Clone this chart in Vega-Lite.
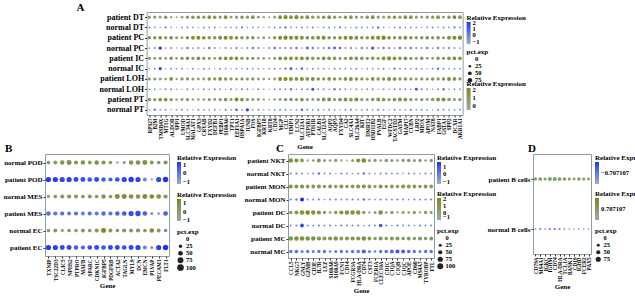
{
"$schema":"https://vega.github.io/schema/vega-lite/v6.json",
"padding":{"left":2,"top":1,"right":0,"bottom":0},
"config":{
"font":"Liberation Serif",
"view":{"stroke":"#8aa0a0","strokeWidth":1},
"axis":{"grid":false,"domain":false,"ticks":true,"tickSize":2,"tickColor":"#333","labelFontWeight":"bold","labelColor":"#000","labelPadding":1,"titleFontWeight":"bold","titleFontSize":7,"titleColor":"#000"},
"axisX":{"labelAngle":-90,"labelFontSize":5.2,"titlePadding":1},
"axisY":{"labelFontSize":7.5},
"legend":{"titleFontSize":7,"titleFontWeight":"bold","titleColor":"#000","labelFontSize":6.5,"labelFontWeight":"bold","labelColor":"#000","labelOverlap":false,"gradientLength":22,"gradientThickness":4,"gradientStrokeWidth":0,"titlePadding":1,"labelOffset":2,"padding":0,"rowPadding":-2,"symbolStrokeWidth":0,"symbolFillColor":"#222","titleLimit":200},
"title":{"font":"Liberation Serif","fontWeight":"bold","fontSize":11,"anchor":"start","frame":"group","baseline":"alphabetic","offset":0}
},
"datasets":{
"A":[
{"g":"RPS27","id":"patient DT","e":0.6,"p":40},{"g":"B2M","id":"patient DT","e":0.8,"p":35},{"g":"TMSB4X","id":"patient DT","e":0.4,"p":30},{"g":"MT1G","id":"patient DT","e":1.0,"p":45},{"g":"ALDOB","id":"patient DT","e":0.3,"p":20},{"g":"SPP1","id":"patient DT","e":0.2,"p":15},{"g":"UMOD","id":"patient DT","e":0.5,"p":30},{"g":"SLC34A1","id":"patient DT","e":0.9,"p":40},{"g":"MALAT1","id":"patient DT","e":1.2,"p":45},{"g":"GPX3","id":"patient DT","e":1.1,"p":45},
{"g":"CRYAB","id":"patient DT","e":1.0,"p":40},{"g":"FXYD2","id":"patient DT","e":1.3,"p":50},{"g":"DEFB1","id":"patient DT","e":1.2,"p":45},{"g":"PEBP1","id":"patient DT","e":0.8,"p":35},{"g":"S100A6","id":"patient DT","e":1.5,"p":55},{"g":"TPT1","id":"patient DT","e":0.7,"p":30},{"g":"EEF1A1","id":"patient DT","e":0.6,"p":35},{"g":"HSPA1A","id":"patient DT","e":1.0,"p":45},{"g":"JUNB","id":"patient DT","e":0.9,"p":40},{"g":"FOS","id":"patient DT","e":1.4,"p":50},
{"g":"IGFBP7","id":"patient DT","e":0.5,"p":30},{"g":"KRT18","id":"patient DT","e":0.3,"p":20},{"g":"KRT8","id":"patient DT","e":0.2,"p":15},{"g":"CD24","id":"patient DT","e":0.6,"p":30},{"g":"MGP","id":"patient DT","e":1.6,"p":55},{"g":"CLU","id":"patient DT","e":1.8,"p":60},{"g":"TIMP1","id":"patient DT","e":1.5,"p":55},{"g":"LCN2","id":"patient DT","e":1.7,"p":60},{"g":"SLC12A1","id":"patient DT","e":1.2,"p":45},{"g":"ATP1B1","id":"patient DT","e":1.4,"p":50},
{"g":"PTH1R","id":"patient DT","e":1.0,"p":40},{"g":"CALB1","id":"patient DT","e":0.8,"p":35},{"g":"SLC12A3","id":"patient DT","e":1.1,"p":45},{"g":"AQP2","id":"patient DT","e":1.5,"p":55},{"g":"AQP3","id":"patient DT","e":0.9,"p":40},{"g":"FXYD4","id":"patient DT","e":0.6,"p":30},{"g":"CA2","id":"patient DT","e":1.2,"p":45},{"g":"SLC4A1","id":"patient DT","e":1.3,"p":50},{"g":"SLC26A4","id":"patient DT","e":0.7,"p":35},{"g":"KIT","id":"patient DT","e":0.5,"p":30},
{"g":"DMRT2","id":"patient DT","e":1.1,"p":45},{"g":"HSD11B2","id":"patient DT","e":1.6,"p":55},{"g":"PVALB","id":"patient DT","e":0.8,"p":35},{"g":"EGF","id":"patient DT","e":0.6,"p":30},{"g":"WFDC2","id":"patient DT","e":1.0,"p":40},{"g":"TACSTD2","id":"patient DT","e":1.2,"p":45},{"g":"GATM","id":"patient DT","e":0.9,"p":40},{"g":"MAP17","id":"patient DT","e":1.5,"p":55},{"g":"CUBN","id":"patient DT","e":1.3,"p":50},{"g":"LRP2","id":"patient DT","e":0.7,"p":35},
{"g":"MIOX","id":"patient DT","e":0.5,"p":30},{"g":"APOM","id":"patient DT","e":0.8,"p":35},{"g":"NAT8","id":"patient DT","e":1.0,"p":40},{"g":"FABP1","id":"patient DT","e":1.4,"p":50},{"g":"GSTA1","id":"patient DT","e":0.6,"p":30},{"g":"SPP2","id":"patient DT","e":1.2,"p":45},{"g":"DCXR","id":"patient DT","e":1.7,"p":55},{"g":"AKR1A1","id":"patient DT","e":1.3,"p":50},
{"g":"RPS27","id":"normal DT","e":-0.5,"p":15},{"g":"B2M","id":"normal DT","e":-0.3,"p":12},{"g":"TMSB4X","id":"normal DT","e":-0.8,"p":8},{"g":"MT1G","id":"normal DT","e":-0.2,"p":18},{"g":"ALDOB","id":"normal DT","e":-0.6,"p":10},{"g":"SPP1","id":"normal DT","e":-1.4,"p":6},{"g":"UMOD","id":"normal DT","e":-0.4,"p":12},{"g":"SLC34A1","id":"normal DT","e":-0.2,"p":15},{"g":"MALAT1","id":"normal DT","e":-0.5,"p":10},{"g":"GPX3","id":"normal DT","e":-0.7,"p":8},
{"g":"CRYAB","id":"normal DT","e":-0.3,"p":14},{"g":"FXYD2","id":"normal DT","e":-0.6,"p":10},{"g":"DEFB1","id":"normal DT","e":-0.2,"p":16},{"g":"PEBP1","id":"normal DT","e":-0.8,"p":6},{"g":"S100A6","id":"normal DT","e":-0.4,"p":12},{"g":"TPT1","id":"normal DT","e":-0.5,"p":10},{"g":"EEF1A1","id":"normal DT","e":-0.3,"p":14},{"g":"HSPA1A","id":"normal DT","e":-0.1,"p":18},{"g":"JUNB","id":"normal DT","e":-0.7,"p":8},{"g":"FOS","id":"normal DT","e":-0.4,"p":12},
{"g":"IGFBP7","id":"normal DT","e":-0.6,"p":10},{"g":"KRT18","id":"normal DT","e":-0.9,"p":5},{"g":"KRT8","id":"normal DT","e":-0.5,"p":10},{"g":"CD24","id":"normal DT","e":-0.3,"p":14},{"g":"MGP","id":"normal DT","e":-0.2,"p":16},{"g":"CLU","id":"normal DT","e":0.1,"p":20},{"g":"TIMP1","id":"normal DT","e":-0.4,"p":12},{"g":"LCN2","id":"normal DT","e":-0.6,"p":10},{"g":"SLC12A1","id":"normal DT","e":-0.3,"p":14},{"g":"ATP1B1","id":"normal DT","e":-0.5,"p":10},
{"g":"PTH1R","id":"normal DT","e":-0.2,"p":16},{"g":"CALB1","id":"normal DT","e":-0.8,"p":6},{"g":"SLC12A3","id":"normal DT","e":-0.4,"p":12},{"g":"AQP2","id":"normal DT","e":-0.3,"p":14},{"g":"AQP3","id":"normal DT","e":-0.6,"p":10},{"g":"FXYD4","id":"normal DT","e":-0.1,"p":18},{"g":"CA2","id":"normal DT","e":-0.5,"p":10},{"g":"SLC4A1","id":"normal DT","e":-0.7,"p":8},{"g":"SLC26A4","id":"normal DT","e":-0.2,"p":16},{"g":"KIT","id":"normal DT","e":-0.4,"p":12},
{"g":"DMRT2","id":"normal DT","e":-0.6,"p":10},{"g":"HSD11B2","id":"normal DT","e":-0.3,"p":14},{"g":"PVALB","id":"normal DT","e":0.2,"p":22},{"g":"EGF","id":"normal DT","e":-0.5,"p":10},{"g":"WFDC2","id":"normal DT","e":-0.8,"p":6},{"g":"TACSTD2","id":"normal DT","e":-0.4,"p":12},{"g":"GATM","id":"normal DT","e":-0.2,"p":16},{"g":"MAP17","id":"normal DT","e":-0.6,"p":10},{"g":"CUBN","id":"normal DT","e":-0.3,"p":14},{"g":"LRP2","id":"normal DT","e":-0.5,"p":10},
{"g":"MIOX","id":"normal DT","e":-0.7,"p":8},{"g":"APOM","id":"normal DT","e":-0.4,"p":12},{"g":"NAT8","id":"normal DT","e":-0.2,"p":16},{"g":"FABP1","id":"normal DT","e":-0.6,"p":10},{"g":"GSTA1","id":"normal DT","e":-0.3,"p":14},{"g":"SPP2","id":"normal DT","e":-0.5,"p":10},{"g":"DCXR","id":"normal DT","e":-0.1,"p":18},{"g":"AKR1A1","id":"normal DT","e":-0.4,"p":12},
{"g":"RPS27","id":"patient PC","e":1.2,"p":45},{"g":"B2M","id":"patient PC","e":1.0,"p":45},{"g":"TMSB4X","id":"patient PC","e":1.5,"p":50},{"g":"MT1G","id":"patient PC","e":0.8,"p":40},{"g":"ALDOB","id":"patient PC","e":1.3,"p":50},{"g":"SPP1","id":"patient PC","e":0.6,"p":35},{"g":"UMOD","id":"patient PC","e":0.4,"p":30},{"g":"SLC34A1","id":"patient PC","e":1.1,"p":45},{"g":"MALAT1","id":"patient PC","e":1.6,"p":55},{"g":"GPX3","id":"patient PC","e":1.8,"p":60},
{"g":"CRYAB","id":"patient PC","e":1.4,"p":50},{"g":"FXYD2","id":"patient PC","e":1.2,"p":45},{"g":"DEFB1","id":"patient PC","e":1.0,"p":45},{"g":"PEBP1","id":"patient PC","e":1.7,"p":55},{"g":"S100A6","id":"patient PC","e":1.9,"p":60},{"g":"TPT1","id":"patient PC","e":1.5,"p":55},{"g":"EEF1A1","id":"patient PC","e":1.3,"p":50},{"g":"HSPA1A","id":"patient PC","e":1.1,"p":45},{"g":"JUNB","id":"patient PC","e":0.9,"p":40},{"g":"FOS","id":"patient PC","e":1.2,"p":45},
{"g":"IGFBP7","id":"patient PC","e":0.3,"p":25},{"g":"KRT18","id":"patient PC","e":0.5,"p":30},{"g":"KRT8","id":"patient PC","e":0.2,"p":20},{"g":"CD24","id":"patient PC","e":1.0,"p":40},{"g":"MGP","id":"patient PC","e":1.8,"p":60},{"g":"CLU","id":"patient PC","e":2.0,"p":65},{"g":"TIMP1","id":"patient PC","e":1.7,"p":60},{"g":"LCN2","id":"patient PC","e":1.9,"p":60},{"g":"SLC12A1","id":"patient PC","e":1.6,"p":55},{"g":"ATP1B1","id":"patient PC","e":1.4,"p":50},
{"g":"PTH1R","id":"patient PC","e":1.3,"p":50},{"g":"CALB1","id":"patient PC","e":1.5,"p":55},{"g":"SLC12A3","id":"patient PC","e":1.8,"p":60},{"g":"AQP2","id":"patient PC","e":1.2,"p":45},{"g":"AQP3","id":"patient PC","e":1.0,"p":40},{"g":"FXYD4","id":"patient PC","e":1.4,"p":50},{"g":"CA2","id":"patient PC","e":1.7,"p":55},{"g":"SLC4A1","id":"patient PC","e":1.9,"p":60},{"g":"SLC26A4","id":"patient PC","e":1.6,"p":55},{"g":"KIT","id":"patient PC","e":1.1,"p":45},
{"g":"DMRT2","id":"patient PC","e":1.2,"p":45},{"g":"HSD11B2","id":"patient PC","e":1.5,"p":55},{"g":"PVALB","id":"patient PC","e":1.8,"p":60},{"g":"EGF","id":"patient PC","e":2.2,"p":65},{"g":"WFDC2","id":"patient PC","e":1.4,"p":50},{"g":"TACSTD2","id":"patient PC","e":1.0,"p":40},{"g":"GATM","id":"patient PC","e":1.3,"p":50},{"g":"MAP17","id":"patient PC","e":1.6,"p":55},{"g":"CUBN","id":"patient PC","e":1.2,"p":45},{"g":"LRP2","id":"patient PC","e":0.9,"p":40},
{"g":"MIOX","id":"patient PC","e":1.1,"p":45},{"g":"APOM","id":"patient PC","e":1.4,"p":50},{"g":"NAT8","id":"patient PC","e":1.0,"p":40},{"g":"FABP1","id":"patient PC","e":1.3,"p":50},{"g":"GSTA1","id":"patient PC","e":0.7,"p":35},{"g":"SPP2","id":"patient PC","e":1.5,"p":55},{"g":"DCXR","id":"patient PC","e":1.8,"p":60},{"g":"AKR1A1","id":"patient PC","e":1.9,"p":65},
{"g":"RPS27","id":"normal PC","e":-0.4,"p":12},{"g":"B2M","id":"normal PC","e":-0.2,"p":14},{"g":"TMSB4X","id":"normal PC","e":2.2,"p":40},{"g":"MT1G","id":"normal PC","e":-0.5,"p":10},{"g":"ALDOB","id":"normal PC","e":-0.3,"p":14},{"g":"SPP1","id":"normal PC","e":-0.6,"p":8},{"g":"UMOD","id":"normal PC","e":-0.2,"p":12},{"g":"SLC34A1","id":"normal PC","e":0.2,"p":20},{"g":"MALAT1","id":"normal PC","e":-0.4,"p":12},{"g":"GPX3","id":"normal PC","e":-0.1,"p":16},
{"g":"CRYAB","id":"normal PC","e":-0.5,"p":10},{"g":"FXYD2","id":"normal PC","e":0.3,"p":20},{"g":"DEFB1","id":"normal PC","e":-0.3,"p":14},{"g":"PEBP1","id":"normal PC","e":-0.6,"p":8},{"g":"S100A6","id":"normal PC","e":-0.2,"p":14},{"g":"TPT1","id":"normal PC","e":-0.4,"p":12},{"g":"EEF1A1","id":"normal PC","e":0.1,"p":18},{"g":"HSPA1A","id":"normal PC","e":-0.5,"p":10},{"g":"JUNB","id":"normal PC","e":-0.3,"p":14},{"g":"FOS","id":"normal PC","e":0.4,"p":22},
{"g":"IGFBP7","id":"normal PC","e":-0.2,"p":14},{"g":"KRT18","id":"normal PC","e":-0.6,"p":8},{"g":"KRT8","id":"normal PC","e":-0.1,"p":16},{"g":"CD24","id":"normal PC","e":0.5,"p":24},{"g":"MGP","id":"normal PC","e":-0.3,"p":14},{"g":"CLU","id":"normal PC","e":-0.2,"p":16},{"g":"TIMP1","id":"normal PC","e":0.1,"p":18},{"g":"LCN2","id":"normal PC","e":0.4,"p":22},{"g":"SLC12A1","id":"normal PC","e":-0.5,"p":10},{"g":"ATP1B1","id":"normal PC","e":1.0,"p":30},
{"g":"PTH1R","id":"normal PC","e":0.2,"p":20},{"g":"CALB1","id":"normal PC","e":-0.3,"p":14},{"g":"SLC12A3","id":"normal PC","e":-0.1,"p":16},{"g":"AQP2","id":"normal PC","e":0.3,"p":22},{"g":"AQP3","id":"normal PC","e":0.9,"p":30},{"g":"FXYD4","id":"normal PC","e":0.6,"p":24},{"g":"CA2","id":"normal PC","e":-0.2,"p":14},{"g":"SLC4A1","id":"normal PC","e":0.1,"p":18},{"g":"SLC26A4","id":"normal PC","e":-0.4,"p":12},{"g":"KIT","id":"normal PC","e":0.2,"p":20},
{"g":"DMRT2","id":"normal PC","e":-0.3,"p":14},{"g":"HSD11B2","id":"normal PC","e":1.5,"p":38},{"g":"PVALB","id":"normal PC","e":-0.2,"p":14},{"g":"EGF","id":"normal PC","e":0.3,"p":22},{"g":"WFDC2","id":"normal PC","e":0.1,"p":18},{"g":"TACSTD2","id":"normal PC","e":-0.4,"p":12},{"g":"GATM","id":"normal PC","e":0.5,"p":24},{"g":"MAP17","id":"normal PC","e":-0.2,"p":14},{"g":"CUBN","id":"normal PC","e":0.2,"p":20},{"g":"LRP2","id":"normal PC","e":-0.3,"p":14},
{"g":"MIOX","id":"normal PC","e":-0.1,"p":16},{"g":"APOM","id":"normal PC","e":0.3,"p":22},{"g":"NAT8","id":"normal PC","e":-0.4,"p":12},{"g":"FABP1","id":"normal PC","e":0.2,"p":20},{"g":"GSTA1","id":"normal PC","e":-0.2,"p":14},{"g":"SPP2","id":"normal PC","e":0.1,"p":18},{"g":"DCXR","id":"normal PC","e":-0.3,"p":14},{"g":"AKR1A1","id":"normal PC","e":-0.5,"p":10},
{"g":"RPS27","id":"patient IC","e":1.0,"p":40},{"g":"B2M","id":"patient IC","e":0.6,"p":30},{"g":"TMSB4X","id":"patient IC","e":0.8,"p":35},{"g":"MT1G","id":"patient IC","e":0.5,"p":30},{"g":"ALDOB","id":"patient IC","e":1.3,"p":45},{"g":"SPP1","id":"patient IC","e":0.4,"p":25},{"g":"UMOD","id":"patient IC","e":1.1,"p":40},{"g":"SLC34A1","id":"patient IC","e":1.2,"p":45},{"g":"MALAT1","id":"patient IC","e":0.9,"p":40},{"g":"GPX3","id":"patient IC","e":1.5,"p":50},
{"g":"CRYAB","id":"patient IC","e":1.0,"p":40},{"g":"FXYD2","id":"patient IC","e":0.7,"p":35},{"g":"DEFB1","id":"patient IC","e":0.5,"p":30},{"g":"PEBP1","id":"patient IC","e":1.2,"p":45},{"g":"S100A6","id":"patient IC","e":1.4,"p":50},{"g":"TPT1","id":"patient IC","e":1.6,"p":55},{"g":"EEF1A1","id":"patient IC","e":1.3,"p":50},{"g":"HSPA1A","id":"patient IC","e":1.0,"p":40},{"g":"JUNB","id":"patient IC","e":0.8,"p":35},{"g":"FOS","id":"patient IC","e":0.9,"p":40},
{"g":"IGFBP7","id":"patient IC","e":0.6,"p":30},{"g":"KRT18","id":"patient IC","e":0.4,"p":25},{"g":"KRT8","id":"patient IC","e":0.3,"p":20},{"g":"CD24","id":"patient IC","e":0.8,"p":35},{"g":"MGP","id":"patient IC","e":1.5,"p":55},{"g":"CLU","id":"patient IC","e":1.4,"p":50},{"g":"TIMP1","id":"patient IC","e":1.6,"p":55},{"g":"LCN2","id":"patient IC","e":1.2,"p":45},{"g":"SLC12A1","id":"patient IC","e":1.5,"p":55},{"g":"ATP1B1","id":"patient IC","e":1.3,"p":50},
{"g":"PTH1R","id":"patient IC","e":1.1,"p":45},{"g":"CALB1","id":"patient IC","e":1.0,"p":40},{"g":"SLC12A3","id":"patient IC","e":1.4,"p":50},{"g":"AQP2","id":"patient IC","e":1.3,"p":50},{"g":"AQP3","id":"patient IC","e":1.2,"p":45},{"g":"FXYD4","id":"patient IC","e":0.8,"p":35},{"g":"CA2","id":"patient IC","e":1.0,"p":40},{"g":"SLC4A1","id":"patient IC","e":1.5,"p":55},{"g":"SLC26A4","id":"patient IC","e":1.3,"p":50},{"g":"KIT","id":"patient IC","e":1.1,"p":45},
{"g":"DMRT2","id":"patient IC","e":0.9,"p":40},{"g":"HSD11B2","id":"patient IC","e":1.2,"p":45},{"g":"PVALB","id":"patient IC","e":1.0,"p":40},{"g":"EGF","id":"patient IC","e":1.6,"p":55},{"g":"WFDC2","id":"patient IC","e":1.7,"p":60},{"g":"TACSTD2","id":"patient IC","e":1.4,"p":50},{"g":"GATM","id":"patient IC","e":1.1,"p":45},{"g":"MAP17","id":"patient IC","e":1.3,"p":50},{"g":"CUBN","id":"patient IC","e":1.0,"p":40},{"g":"LRP2","id":"patient IC","e":0.8,"p":35},
{"g":"MIOX","id":"patient IC","e":1.2,"p":45},{"g":"APOM","id":"patient IC","e":0.7,"p":30},{"g":"NAT8","id":"patient IC","e":0.6,"p":30},{"g":"FABP1","id":"patient IC","e":1.1,"p":45},{"g":"GSTA1","id":"patient IC","e":0.9,"p":40},{"g":"SPP2","id":"patient IC","e":1.3,"p":50},{"g":"DCXR","id":"patient IC","e":1.6,"p":55},{"g":"AKR1A1","id":"patient IC","e":1.4,"p":50},
{"g":"RPS27","id":"normal IC","e":-0.5,"p":10},{"g":"B2M","id":"normal IC","e":-0.3,"p":14},{"g":"TMSB4X","id":"normal IC","e":1.7,"p":38},{"g":"MT1G","id":"normal IC","e":-0.6,"p":8},{"g":"ALDOB","id":"normal IC","e":-0.2,"p":14},{"g":"SPP1","id":"normal IC","e":-0.5,"p":10},{"g":"UMOD","id":"normal IC","e":-0.3,"p":12},{"g":"SLC34A1","id":"normal IC","e":-0.7,"p":6},{"g":"MALAT1","id":"normal IC","e":-0.4,"p":12},{"g":"GPX3","id":"normal IC","e":-0.6,"p":8},
{"g":"CRYAB","id":"normal IC","e":-0.2,"p":14},{"g":"FXYD2","id":"normal IC","e":-0.5,"p":10},{"g":"DEFB1","id":"normal IC","e":-0.8,"p":6},{"g":"PEBP1","id":"normal IC","e":-0.3,"p":14},{"g":"S100A6","id":"normal IC","e":-0.4,"p":12},{"g":"TPT1","id":"normal IC","e":-0.6,"p":8},{"g":"EEF1A1","id":"normal IC","e":-0.3,"p":12},{"g":"HSPA1A","id":"normal IC","e":-0.5,"p":10},{"g":"JUNB","id":"normal IC","e":-0.2,"p":14},{"g":"FOS","id":"normal IC","e":-0.4,"p":12},
{"g":"IGFBP7","id":"normal IC","e":-0.3,"p":12},{"g":"KRT18","id":"normal IC","e":-0.6,"p":8},{"g":"KRT8","id":"normal IC","e":-0.4,"p":10},{"g":"CD24","id":"normal IC","e":-0.2,"p":14},{"g":"MGP","id":"normal IC","e":-0.5,"p":10},{"g":"CLU","id":"normal IC","e":0.2,"p":20},{"g":"TIMP1","id":"normal IC","e":1.2,"p":32},{"g":"LCN2","id":"normal IC","e":-0.3,"p":12},{"g":"SLC12A1","id":"normal IC","e":0.6,"p":24},{"g":"ATP1B1","id":"normal IC","e":-0.4,"p":10},
{"g":"PTH1R","id":"normal IC","e":-0.2,"p":14},{"g":"CALB1","id":"normal IC","e":-0.5,"p":10},{"g":"SLC12A3","id":"normal IC","e":-0.3,"p":12},{"g":"AQP2","id":"normal IC","e":-0.6,"p":8},{"g":"AQP3","id":"normal IC","e":-0.2,"p":14},{"g":"FXYD4","id":"normal IC","e":-0.4,"p":12},{"g":"CA2","id":"normal IC","e":-0.3,"p":12},{"g":"SLC4A1","id":"normal IC","e":-0.5,"p":10},{"g":"SLC26A4","id":"normal IC","e":-0.2,"p":14},{"g":"KIT","id":"normal IC","e":-0.6,"p":8},
{"g":"DMRT2","id":"normal IC","e":-0.4,"p":10},{"g":"HSD11B2","id":"normal IC","e":-0.3,"p":12},{"g":"PVALB","id":"normal IC","e":-0.5,"p":10},{"g":"EGF","id":"normal IC","e":-0.2,"p":14},{"g":"WFDC2","id":"normal IC","e":-0.6,"p":8},{"g":"TACSTD2","id":"normal IC","e":0.3,"p":20},{"g":"GATM","id":"normal IC","e":-0.4,"p":12},{"g":"MAP17","id":"normal IC","e":-0.3,"p":12},{"g":"CUBN","id":"normal IC","e":-0.5,"p":10},{"g":"LRP2","id":"normal IC","e":-0.2,"p":14},
{"g":"MIOX","id":"normal IC","e":-0.4,"p":12},{"g":"APOM","id":"normal IC","e":-0.6,"p":8},{"g":"NAT8","id":"normal IC","e":-0.3,"p":12},{"g":"FABP1","id":"normal IC","e":0.4,"p":22},{"g":"GSTA1","id":"normal IC","e":-0.2,"p":14},{"g":"SPP2","id":"normal IC","e":-0.5,"p":10},{"g":"DCXR","id":"normal IC","e":-0.3,"p":12},{"g":"AKR1A1","id":"normal IC","e":-0.4,"p":12},
{"g":"RPS27","id":"patient LOH","e":0.8,"p":35},{"g":"B2M","id":"patient LOH","e":0.7,"p":35},{"g":"TMSB4X","id":"patient LOH","e":0.6,"p":30},{"g":"MT1G","id":"patient LOH","e":0.4,"p":25},{"g":"ALDOB","id":"patient LOH","e":1.5,"p":50},{"g":"SPP1","id":"patient LOH","e":0.3,"p":20},{"g":"UMOD","id":"patient LOH","e":0.9,"p":40},{"g":"SLC34A1","id":"patient LOH","e":1.0,"p":40},{"g":"MALAT1","id":"patient LOH","e":0.8,"p":35},{"g":"GPX3","id":"patient LOH","e":0.6,"p":30},
{"g":"CRYAB","id":"patient LOH","e":0.5,"p":30},{"g":"FXYD2","id":"patient LOH","e":1.1,"p":45},{"g":"DEFB1","id":"patient LOH","e":0.9,"p":40},{"g":"PEBP1","id":"patient LOH","e":1.4,"p":50},{"g":"S100A6","id":"patient LOH","e":1.2,"p":45},{"g":"TPT1","id":"patient LOH","e":1.0,"p":40},{"g":"EEF1A1","id":"patient LOH","e":0.7,"p":35},{"g":"HSPA1A","id":"patient LOH","e":0.9,"p":40},{"g":"JUNB","id":"patient LOH","e":0.8,"p":35},{"g":"FOS","id":"patient LOH","e":1.0,"p":40},
{"g":"IGFBP7","id":"patient LOH","e":0.6,"p":30},{"g":"KRT18","id":"patient LOH","e":0.4,"p":25},{"g":"KRT8","id":"patient LOH","e":0.3,"p":20},{"g":"CD24","id":"patient LOH","e":0.5,"p":30},{"g":"MGP","id":"patient LOH","e":1.6,"p":55},{"g":"CLU","id":"patient LOH","e":1.9,"p":60},{"g":"TIMP1","id":"patient LOH","e":1.7,"p":55},{"g":"LCN2","id":"patient LOH","e":1.4,"p":50},{"g":"SLC12A1","id":"patient LOH","e":1.6,"p":55},{"g":"ATP1B1","id":"patient LOH","e":1.3,"p":50},
{"g":"PTH1R","id":"patient LOH","e":1.5,"p":55},{"g":"CALB1","id":"patient LOH","e":1.2,"p":45},{"g":"SLC12A3","id":"patient LOH","e":1.0,"p":40},{"g":"AQP2","id":"patient LOH","e":1.3,"p":50},{"g":"AQP3","id":"patient LOH","e":1.1,"p":45},{"g":"FXYD4","id":"patient LOH","e":0.9,"p":40},{"g":"CA2","id":"patient LOH","e":1.3,"p":50},{"g":"SLC4A1","id":"patient LOH","e":1.5,"p":55},{"g":"SLC26A4","id":"patient LOH","e":1.2,"p":45},{"g":"KIT","id":"patient LOH","e":1.0,"p":40},
{"g":"DMRT2","id":"patient LOH","e":0.8,"p":35},{"g":"HSD11B2","id":"patient LOH","e":1.4,"p":50},{"g":"PVALB","id":"patient LOH","e":1.1,"p":45},{"g":"EGF","id":"patient LOH","e":1.2,"p":45},{"g":"WFDC2","id":"patient LOH","e":1.5,"p":55},{"g":"TACSTD2","id":"patient LOH","e":1.3,"p":50},{"g":"GATM","id":"patient LOH","e":1.0,"p":40},{"g":"MAP17","id":"patient LOH","e":1.2,"p":45},{"g":"CUBN","id":"patient LOH","e":0.9,"p":40},{"g":"LRP2","id":"patient LOH","e":0.7,"p":35},
{"g":"MIOX","id":"patient LOH","e":1.0,"p":40},{"g":"APOM","id":"patient LOH","e":0.8,"p":35},{"g":"NAT8","id":"patient LOH","e":1.2,"p":45},{"g":"FABP1","id":"patient LOH","e":0.9,"p":40},{"g":"GSTA1","id":"patient LOH","e":1.1,"p":45},{"g":"SPP2","id":"patient LOH","e":1.5,"p":55},{"g":"DCXR","id":"patient LOH","e":1.3,"p":50},{"g":"AKR1A1","id":"patient LOH","e":1.0,"p":40},
{"g":"RPS27","id":"normal LOH","e":-0.5,"p":10},{"g":"B2M","id":"normal LOH","e":-0.4,"p":12},{"g":"TMSB4X","id":"normal LOH","e":-0.6,"p":8},{"g":"MT1G","id":"normal LOH","e":-0.3,"p":14},{"g":"ALDOB","id":"normal LOH","e":-0.2,"p":16},{"g":"SPP1","id":"normal LOH","e":-0.5,"p":10},{"g":"UMOD","id":"normal LOH","e":-0.7,"p":6},{"g":"SLC34A1","id":"normal LOH","e":-0.3,"p":14},{"g":"MALAT1","id":"normal LOH","e":-0.4,"p":12},{"g":"GPX3","id":"normal LOH","e":-0.6,"p":8},
{"g":"CRYAB","id":"normal LOH","e":-0.3,"p":14},{"g":"FXYD2","id":"normal LOH","e":-0.5,"p":10},{"g":"DEFB1","id":"normal LOH","e":-0.2,"p":16},{"g":"PEBP1","id":"normal LOH","e":-0.4,"p":12},{"g":"S100A6","id":"normal LOH","e":-0.6,"p":8},{"g":"TPT1","id":"normal LOH","e":-0.3,"p":14},{"g":"EEF1A1","id":"normal LOH","e":-0.5,"p":10},{"g":"HSPA1A","id":"normal LOH","e":-0.2,"p":16},{"g":"JUNB","id":"normal LOH","e":-0.4,"p":12},{"g":"FOS","id":"normal LOH","e":-0.6,"p":8},
{"g":"IGFBP7","id":"normal LOH","e":-0.3,"p":14},{"g":"KRT18","id":"normal LOH","e":-0.5,"p":10},{"g":"KRT8","id":"normal LOH","e":-0.7,"p":6},{"g":"CD24","id":"normal LOH","e":-0.4,"p":12},{"g":"MGP","id":"normal LOH","e":-0.2,"p":16},{"g":"CLU","id":"normal LOH","e":-0.3,"p":14},{"g":"TIMP1","id":"normal LOH","e":0.1,"p":20},{"g":"LCN2","id":"normal LOH","e":-0.5,"p":10},{"g":"SLC12A1","id":"normal LOH","e":-0.3,"p":14},{"g":"ATP1B1","id":"normal LOH","e":-0.2,"p":16},
{"g":"PTH1R","id":"normal LOH","e":1.6,"p":34},{"g":"CALB1","id":"normal LOH","e":-0.4,"p":12},{"g":"SLC12A3","id":"normal LOH","e":-0.3,"p":14},{"g":"AQP2","id":"normal LOH","e":-0.5,"p":10},{"g":"AQP3","id":"normal LOH","e":0.3,"p":22},{"g":"FXYD4","id":"normal LOH","e":-0.2,"p":16},{"g":"CA2","id":"normal LOH","e":-0.4,"p":12},{"g":"SLC4A1","id":"normal LOH","e":-0.6,"p":8},{"g":"SLC26A4","id":"normal LOH","e":-0.3,"p":14},{"g":"KIT","id":"normal LOH","e":-0.5,"p":10},
{"g":"DMRT2","id":"normal LOH","e":-0.4,"p":12},{"g":"HSD11B2","id":"normal LOH","e":-0.2,"p":16},{"g":"PVALB","id":"normal LOH","e":-0.6,"p":8},{"g":"EGF","id":"normal LOH","e":-0.3,"p":14},{"g":"WFDC2","id":"normal LOH","e":-0.5,"p":10},{"g":"TACSTD2","id":"normal LOH","e":-0.2,"p":16},{"g":"GATM","id":"normal LOH","e":-0.4,"p":12},{"g":"MAP17","id":"normal LOH","e":-0.3,"p":14},{"g":"CUBN","id":"normal LOH","e":-0.5,"p":10},{"g":"LRP2","id":"normal LOH","e":1.3,"p":30},
{"g":"MIOX","id":"normal LOH","e":-0.2,"p":16},{"g":"APOM","id":"normal LOH","e":-0.4,"p":12},{"g":"NAT8","id":"normal LOH","e":-0.6,"p":8},{"g":"FABP1","id":"normal LOH","e":-0.3,"p":14},{"g":"GSTA1","id":"normal LOH","e":0.4,"p":22},{"g":"SPP2","id":"normal LOH","e":-0.5,"p":10},{"g":"DCXR","id":"normal LOH","e":-0.3,"p":14},{"g":"AKR1A1","id":"normal LOH","e":-0.4,"p":12},
{"g":"RPS27","id":"patient PT","e":1.0,"p":45},{"g":"B2M","id":"patient PT","e":0.8,"p":40},{"g":"TMSB4X","id":"patient PT","e":1.3,"p":50},{"g":"MT1G","id":"patient PT","e":1.4,"p":50},{"g":"ALDOB","id":"patient PT","e":0.9,"p":40},{"g":"SPP1","id":"patient PT","e":0.4,"p":25},{"g":"UMOD","id":"patient PT","e":0.6,"p":30},{"g":"SLC34A1","id":"patient PT","e":0.9,"p":40},{"g":"MALAT1","id":"patient PT","e":0.3,"p":20},{"g":"GPX3","id":"patient PT","e":0.5,"p":25},
{"g":"CRYAB","id":"patient PT","e":0.4,"p":25},{"g":"FXYD2","id":"patient PT","e":0.8,"p":40},{"g":"DEFB1","id":"patient PT","e":0.6,"p":30},{"g":"PEBP1","id":"patient PT","e":0.9,"p":40},{"g":"S100A6","id":"patient PT","e":1.2,"p":50},{"g":"TPT1","id":"patient PT","e":0.7,"p":35},{"g":"EEF1A1","id":"patient PT","e":1.8,"p":60},{"g":"HSPA1A","id":"patient PT","e":1.3,"p":50},{"g":"JUNB","id":"patient PT","e":0.8,"p":40},{"g":"FOS","id":"patient PT","e":0.6,"p":30},
{"g":"IGFBP7","id":"patient PT","e":0.5,"p":30},{"g":"KRT18","id":"patient PT","e":0.3,"p":20},{"g":"KRT8","id":"patient PT","e":-0.45,"p":15},{"g":"CD24","id":"patient PT","e":0.4,"p":25},{"g":"MGP","id":"patient PT","e":0.6,"p":30},{"g":"CLU","id":"patient PT","e":0.9,"p":40},{"g":"TIMP1","id":"patient PT","e":1.0,"p":45},{"g":"LCN2","id":"patient PT","e":0.8,"p":40},{"g":"SLC12A1","id":"patient PT","e":1.2,"p":50},{"g":"ATP1B1","id":"patient PT","e":0.7,"p":35},
{"g":"PTH1R","id":"patient PT","e":0.6,"p":30},{"g":"CALB1","id":"patient PT","e":0.9,"p":40},{"g":"SLC12A3","id":"patient PT","e":1.3,"p":55},{"g":"AQP2","id":"patient PT","e":1.5,"p":55},{"g":"AQP3","id":"patient PT","e":0.8,"p":40},{"g":"FXYD4","id":"patient PT","e":1.1,"p":50},{"g":"CA2","id":"patient PT","e":1.4,"p":55},{"g":"SLC4A1","id":"patient PT","e":1.2,"p":50},{"g":"SLC26A4","id":"patient PT","e":1.6,"p":60},{"g":"KIT","id":"patient PT","e":0.9,"p":40},
{"g":"DMRT2","id":"patient PT","e":0.7,"p":35},{"g":"HSD11B2","id":"patient PT","e":1.0,"p":45},{"g":"PVALB","id":"patient PT","e":1.3,"p":55},{"g":"EGF","id":"patient PT","e":1.1,"p":50},{"g":"WFDC2","id":"patient PT","e":0.8,"p":40},{"g":"TACSTD2","id":"patient PT","e":1.2,"p":50},{"g":"GATM","id":"patient PT","e":1.5,"p":55},{"g":"MAP17","id":"patient PT","e":1.3,"p":50},{"g":"CUBN","id":"patient PT","e":0.9,"p":40},{"g":"LRP2","id":"patient PT","e":0.6,"p":30},
{"g":"MIOX","id":"patient PT","e":0.8,"p":40},{"g":"APOM","id":"patient PT","e":0.5,"p":30},{"g":"NAT8","id":"patient PT","e":1.0,"p":45},{"g":"FABP1","id":"patient PT","e":1.4,"p":55},{"g":"GSTA1","id":"patient PT","e":1.6,"p":60},{"g":"SPP2","id":"patient PT","e":1.0,"p":45},{"g":"DCXR","id":"patient PT","e":0.7,"p":35},{"g":"AKR1A1","id":"patient PT","e":0.9,"p":40},
{"g":"RPS27","id":"normal PT","e":-0.6,"p":10},{"g":"B2M","id":"normal PT","e":0.3,"p":22},{"g":"TMSB4X","id":"normal PT","e":-0.5,"p":12},{"g":"MT1G","id":"normal PT","e":-0.3,"p":14},{"g":"ALDOB","id":"normal PT","e":-0.7,"p":8},{"g":"SPP1","id":"normal PT","e":-0.4,"p":12},{"g":"UMOD","id":"normal PT","e":-0.2,"p":14},{"g":"SLC34A1","id":"normal PT","e":-0.5,"p":10},{"g":"MALAT1","id":"normal PT","e":-0.6,"p":8},{"g":"GPX3","id":"normal PT","e":-0.3,"p":14},
{"g":"CRYAB","id":"normal PT","e":-0.4,"p":12},{"g":"FXYD2","id":"normal PT","e":-0.5,"p":10},{"g":"DEFB1","id":"normal PT","e":-0.3,"p":14},{"g":"PEBP1","id":"normal PT","e":-0.6,"p":8},{"g":"S100A6","id":"normal PT","e":-0.2,"p":16},{"g":"TPT1","id":"normal PT","e":-0.4,"p":12},{"g":"EEF1A1","id":"normal PT","e":0.8,"p":28},{"g":"HSPA1A","id":"normal PT","e":-0.5,"p":10},{"g":"JUNB","id":"normal PT","e":1.9,"p":38},{"g":"FOS","id":"normal PT","e":-0.4,"p":12},
{"g":"IGFBP7","id":"normal PT","e":-0.3,"p":14},{"g":"KRT18","id":"normal PT","e":-0.6,"p":8},{"g":"KRT8","id":"normal PT","e":-0.5,"p":10},{"g":"CD24","id":"normal PT","e":-0.4,"p":12},{"g":"MGP","id":"normal PT","e":-0.2,"p":16},{"g":"CLU","id":"normal PT","e":-0.3,"p":14},{"g":"TIMP1","id":"normal PT","e":-0.5,"p":10},{"g":"LCN2","id":"normal PT","e":-0.4,"p":12},{"g":"SLC12A1","id":"normal PT","e":0.5,"p":24},{"g":"ATP1B1","id":"normal PT","e":-0.3,"p":14},
{"g":"PTH1R","id":"normal PT","e":-0.4,"p":12},{"g":"CALB1","id":"normal PT","e":-0.2,"p":16},{"g":"SLC12A3","id":"normal PT","e":-0.5,"p":10},{"g":"AQP2","id":"normal PT","e":-0.3,"p":14},{"g":"AQP3","id":"normal PT","e":-0.4,"p":12},{"g":"FXYD4","id":"normal PT","e":-0.6,"p":8},{"g":"CA2","id":"normal PT","e":-0.3,"p":14},{"g":"SLC4A1","id":"normal PT","e":-0.2,"p":16},{"g":"SLC26A4","id":"normal PT","e":-0.5,"p":10},{"g":"KIT","id":"normal PT","e":-0.4,"p":12},
{"g":"DMRT2","id":"normal PT","e":-0.3,"p":14},{"g":"HSD11B2","id":"normal PT","e":-0.5,"p":10},{"g":"PVALB","id":"normal PT","e":-0.2,"p":16},{"g":"EGF","id":"normal PT","e":-0.4,"p":12},{"g":"WFDC2","id":"normal PT","e":-0.6,"p":8},{"g":"TACSTD2","id":"normal PT","e":-0.3,"p":14},{"g":"GATM","id":"normal PT","e":-0.5,"p":10},{"g":"MAP17","id":"normal PT","e":-0.4,"p":12},{"g":"CUBN","id":"normal PT","e":-0.2,"p":16},{"g":"LRP2","id":"normal PT","e":-0.5,"p":10},
{"g":"MIOX","id":"normal PT","e":-0.3,"p":14},{"g":"APOM","id":"normal PT","e":-0.4,"p":12},{"g":"NAT8","id":"normal PT","e":-0.6,"p":8},{"g":"FABP1","id":"normal PT","e":-0.2,"p":16},{"g":"GSTA1","id":"normal PT","e":-0.3,"p":14},{"g":"SPP2","id":"normal PT","e":-0.5,"p":10},{"g":"DCXR","id":"normal PT","e":-0.4,"p":12},{"g":"AKR1A1","id":"normal PT","e":-0.3,"p":14}
],
"B":[
{"g":"TXNIP","id":"normal POD","e":0.2,"p":30},{"g":"TSC22D3","id":"normal POD","e":0.1,"p":35},{"g":"CLIC5","id":"normal POD","e":0.6,"p":45},{"g":"NPHS2","id":"normal POD","e":0.9,"p":55},{"g":"PTPRO","id":"normal POD","e":0.3,"p":40},{"g":"MAFB","id":"normal POD","e":0.5,"p":45},{"g":"SPARC","id":"normal POD","e":0.2,"p":35},{"g":"CDKN1C","id":"normal POD","e":0.7,"p":45},{"g":"IGFBP5","id":"normal POD","e":0.4,"p":40},{"g":"PDGFRB","id":"normal POD","e":0.1,"p":30},{"g":"ACTA2","id":"normal POD","e":-1.1,"p":15},{"g":"TAGLN","id":"normal POD","e":0.0,"p":20},{"g":"MYL9","id":"normal POD","e":0.6,"p":45},{"g":"DCN","id":"normal POD","e":0.7,"p":50},{"g":"EMCN","id":"normal POD","e":0.8,"p":55},{"g":"PLVAP","id":"normal POD","e":0.3,"p":35},{"g":"PECAM1","id":"normal POD","e":0.2,"p":30},{"g":"FLT1","id":"normal POD","e":0.4,"p":40},
{"g":"TXNIP","id":"patient POD","e":1.2,"p":60},{"g":"TSC22D3","id":"patient POD","e":1.1,"p":60},{"g":"CLIC5","id":"patient POD","e":1.0,"p":60},{"g":"NPHS2","id":"patient POD","e":1.1,"p":60},{"g":"PTPRO","id":"patient POD","e":0.9,"p":55},{"g":"MAFB","id":"patient POD","e":0.8,"p":55},{"g":"SPARC","id":"patient POD","e":0.7,"p":50},{"g":"CDKN1C","id":"patient POD","e":0.9,"p":55},{"g":"IGFBP5","id":"patient POD","e":0.6,"p":45},{"g":"PDGFRB","id":"patient POD","e":0.5,"p":40},{"g":"ACTA2","id":"patient POD","e":0.8,"p":50},{"g":"TAGLN","id":"patient POD","e":1.0,"p":60},{"g":"MYL9","id":"patient POD","e":1.2,"p":65},{"g":"DCN","id":"patient POD","e":1.1,"p":60},{"g":"EMCN","id":"patient POD","e":-0.3,"p":35},{"g":"PLVAP","id":"patient POD","e":-1.2,"p":15},{"g":"PECAM1","id":"patient POD","e":1.0,"p":60},{"g":"FLT1","id":"patient POD","e":1.3,"p":65},
{"g":"TXNIP","id":"normal MES","e":-0.4,"p":25},{"g":"TSC22D3","id":"normal MES","e":0.2,"p":30},{"g":"CLIC5","id":"normal MES","e":0.4,"p":35},{"g":"NPHS2","id":"normal MES","e":0.5,"p":40},{"g":"PTPRO","id":"normal MES","e":0.3,"p":35},{"g":"MAFB","id":"normal MES","e":0.2,"p":30},{"g":"SPARC","id":"normal MES","e":0.4,"p":35},{"g":"CDKN1C","id":"normal MES","e":0.3,"p":30},{"g":"IGFBP5","id":"normal MES","e":0.5,"p":45},{"g":"PDGFRB","id":"normal MES","e":0.2,"p":30},{"g":"ACTA2","id":"normal MES","e":0.9,"p":55},{"g":"TAGLN","id":"normal MES","e":1.0,"p":55},{"g":"MYL9","id":"normal MES","e":0.8,"p":50},{"g":"DCN","id":"normal MES","e":0.6,"p":45},{"g":"EMCN","id":"normal MES","e":1.1,"p":55},{"g":"PLVAP","id":"normal MES","e":1.0,"p":50},{"g":"PECAM1","id":"normal MES","e":0.9,"p":50},{"g":"FLT1","id":"normal MES","e":0.5,"p":40},
{"g":"TXNIP","id":"patient MES","e":0.3,"p":45},{"g":"TSC22D3","id":"patient MES","e":0.1,"p":40},{"g":"CLIC5","id":"patient MES","e":0.2,"p":40},{"g":"NPHS2","id":"patient MES","e":0.0,"p":35},{"g":"PTPRO","id":"patient MES","e":0.1,"p":40},{"g":"MAFB","id":"patient MES","e":-0.1,"p":35},{"g":"SPARC","id":"patient MES","e":0.2,"p":40},{"g":"CDKN1C","id":"patient MES","e":0.0,"p":35},{"g":"IGFBP5","id":"patient MES","e":0.3,"p":45},{"g":"PDGFRB","id":"patient MES","e":0.1,"p":40},{"g":"ACTA2","id":"patient MES","e":0.4,"p":45},{"g":"TAGLN","id":"patient MES","e":0.6,"p":50},{"g":"MYL9","id":"patient MES","e":0.9,"p":60},{"g":"DCN","id":"patient MES","e":1.0,"p":65},{"g":"EMCN","id":"patient MES","e":0.5,"p":50},{"g":"PLVAP","id":"patient MES","e":-0.5,"p":20},{"g":"PECAM1","id":"patient MES","e":-0.6,"p":15},{"g":"FLT1","id":"patient MES","e":0.6,"p":50},
{"g":"TXNIP","id":"normal EC","e":0.2,"p":30},{"g":"TSC22D3","id":"normal EC","e":0.3,"p":35},{"g":"CLIC5","id":"normal EC","e":-0.6,"p":25},{"g":"NPHS2","id":"normal EC","e":0.2,"p":30},{"g":"PTPRO","id":"normal EC","e":0.1,"p":30},{"g":"MAFB","id":"normal EC","e":0.3,"p":35},{"g":"SPARC","id":"normal EC","e":0.2,"p":30},{"g":"CDKN1C","id":"normal EC","e":0.4,"p":35},{"g":"IGFBP5","id":"normal EC","e":1.5,"p":55},{"g":"PDGFRB","id":"normal EC","e":0.3,"p":35},{"g":"ACTA2","id":"normal EC","e":0.2,"p":30},{"g":"TAGLN","id":"normal EC","e":0.4,"p":40},{"g":"MYL9","id":"normal EC","e":0.3,"p":35},{"g":"DCN","id":"normal EC","e":0.5,"p":40},{"g":"EMCN","id":"normal EC","e":0.2,"p":30},{"g":"PLVAP","id":"normal EC","e":0.9,"p":50},{"g":"PECAM1","id":"normal EC","e":0.3,"p":35},{"g":"FLT1","id":"normal EC","e":0.2,"p":30},
{"g":"TXNIP","id":"patient EC","e":1.2,"p":60},{"g":"TSC22D3","id":"patient EC","e":1.1,"p":60},{"g":"CLIC5","id":"patient EC","e":1.0,"p":55},{"g":"NPHS2","id":"patient EC","e":1.0,"p":55},{"g":"PTPRO","id":"patient EC","e":0.6,"p":45},{"g":"MAFB","id":"patient EC","e":0.4,"p":40},{"g":"SPARC","id":"patient EC","e":0.8,"p":50},{"g":"CDKN1C","id":"patient EC","e":0.9,"p":55},{"g":"IGFBP5","id":"patient EC","e":0.7,"p":50},{"g":"PDGFRB","id":"patient EC","e":1.0,"p":55},{"g":"ACTA2","id":"patient EC","e":0.9,"p":55},{"g":"TAGLN","id":"patient EC","e":0.8,"p":50},{"g":"MYL9","id":"patient EC","e":1.0,"p":55},{"g":"DCN","id":"patient EC","e":1.1,"p":60},{"g":"EMCN","id":"patient EC","e":-0.2,"p":35},{"g":"PLVAP","id":"patient EC","e":-0.4,"p":20},{"g":"PECAM1","id":"patient EC","e":1.1,"p":60},{"g":"FLT1","id":"patient EC","e":1.3,"p":65}
],
"C":[
{"g":"CCL5","id":"patient NKT","e":1.5,"p":55},{"g":"NKG7","id":"patient NKT","e":1.3,"p":50},{"g":"GNLY","id":"patient NKT","e":0.8,"p":40},{"g":"GZMB","id":"patient NKT","e":0.2,"p":15},{"g":"CD3E","id":"patient NKT","e":0.3,"p":20},{"g":"IL7R","id":"patient NKT","e":1.0,"p":45},{"g":"LYZ","id":"patient NKT","e":0.4,"p":25},{"g":"S100A8","id":"patient NKT","e":0.3,"p":20},{"g":"S100A9","id":"patient NKT","e":0.5,"p":30},{"g":"FCN1","id":"patient NKT","e":0.2,"p":15},{"g":"CD14","id":"patient NKT","e":-0.95,"p":10},{"g":"FCGR3A","id":"patient NKT","e":0.4,"p":25},{"g":"HLA-DRA","id":"patient NKT","e":1.2,"p":50},{"g":"CD74","id":"patient NKT","e":1.8,"p":60},{"g":"CST3","id":"patient NKT","e":0.3,"p":25},{"g":"FCER1A","id":"patient NKT","e":0.5,"p":30},{"g":"CLEC10A","id":"patient NKT","e":0.2,"p":20},{"g":"CD1C","id":"patient NKT","e":0.6,"p":35},{"g":"C1QA","id":"patient NKT","e":0.4,"p":25},{"g":"C1QB","id":"patient NKT","e":0.3,"p":20},{"g":"C1QC","id":"patient NKT","e":0.5,"p":30},{"g":"APOE","id":"patient NKT","e":0.7,"p":35},{"g":"CD68","id":"patient NKT","e":0.4,"p":25},{"g":"MS4A7","id":"patient NKT","e":0.6,"p":30},{"g":"TYROBP","id":"patient NKT","e":0.3,"p":20},{"g":"FTL","id":"patient NKT","e":0.5,"p":30},
{"g":"CCL5","id":"normal NKT","e":-0.3,"p":12},{"g":"NKG7","id":"normal NKT","e":-0.5,"p":15},{"g":"GNLY","id":"normal NKT","e":-0.2,"p":10},{"g":"GZMB","id":"normal NKT","e":-0.6,"p":8},{"g":"CD3E","id":"normal NKT","e":-0.4,"p":12},{"g":"IL7R","id":"normal NKT","e":0.1,"p":18},{"g":"LYZ","id":"normal NKT","e":-0.5,"p":10},{"g":"S100A8","id":"normal NKT","e":-0.3,"p":12},{"g":"S100A9","id":"normal NKT","e":-1.3,"p":8},{"g":"FCN1","id":"normal NKT","e":-0.2,"p":14},{"g":"CD14","id":"normal NKT","e":-0.4,"p":10},{"g":"FCGR3A","id":"normal NKT","e":-0.5,"p":8},{"g":"HLA-DRA","id":"normal NKT","e":-0.3,"p":12},{"g":"CD74","id":"normal NKT","e":0.0,"p":18},{"g":"CST3","id":"normal NKT","e":-0.4,"p":10},{"g":"FCER1A","id":"normal NKT","e":-0.5,"p":8},{"g":"CLEC10A","id":"normal NKT","e":-0.3,"p":12},{"g":"CD1C","id":"normal NKT","e":-0.2,"p":14},{"g":"C1QA","id":"normal NKT","e":-0.5,"p":10},{"g":"C1QB","id":"normal NKT","e":-0.4,"p":12},{"g":"C1QC","id":"normal NKT","e":-0.6,"p":8},{"g":"APOE","id":"normal NKT","e":-0.3,"p":12},{"g":"CD68","id":"normal NKT","e":-0.4,"p":10},{"g":"MS4A7","id":"normal NKT","e":-0.5,"p":8},{"g":"TYROBP","id":"normal NKT","e":-0.3,"p":12},{"g":"FTL","id":"normal NKT","e":-0.4,"p":10},
{"g":"CCL5","id":"patient MON","e":1.0,"p":45},{"g":"NKG7","id":"patient MON","e":0.9,"p":45},{"g":"GNLY","id":"patient MON","e":1.1,"p":50},{"g":"GZMB","id":"patient MON","e":0.8,"p":40},{"g":"CD3E","id":"patient MON","e":0.7,"p":40},{"g":"IL7R","id":"patient MON","e":0.9,"p":45},{"g":"LYZ","id":"patient MON","e":0.6,"p":35},{"g":"S100A8","id":"patient MON","e":0.8,"p":40},{"g":"S100A9","id":"patient MON","e":0.7,"p":35},{"g":"FCN1","id":"patient MON","e":0.9,"p":45},{"g":"CD14","id":"patient MON","e":0.6,"p":35},{"g":"FCGR3A","id":"patient MON","e":0.8,"p":40},{"g":"HLA-DRA","id":"patient MON","e":1.0,"p":45},{"g":"CD74","id":"patient MON","e":1.2,"p":50},{"g":"CST3","id":"patient MON","e":0.7,"p":40},{"g":"FCER1A","id":"patient MON","e":0.5,"p":30},{"g":"CLEC10A","id":"patient MON","e":0.9,"p":45},{"g":"CD1C","id":"patient MON","e":0.6,"p":35},{"g":"C1QA","id":"patient MON","e":0.8,"p":40},{"g":"C1QB","id":"patient MON","e":0.7,"p":35},{"g":"C1QC","id":"patient MON","e":0.9,"p":45},{"g":"APOE","id":"patient MON","e":1.0,"p":45},{"g":"CD68","id":"patient MON","e":0.8,"p":40},{"g":"MS4A7","id":"patient MON","e":0.6,"p":35},{"g":"TYROBP","id":"patient MON","e":0.9,"p":45},{"g":"FTL","id":"patient MON","e":0.7,"p":40},
{"g":"CCL5","id":"normal MON","e":-0.2,"p":14},{"g":"NKG7","id":"normal MON","e":-0.1,"p":16},{"g":"GNLY","id":"normal MON","e":1.6,"p":45},{"g":"GZMB","id":"normal MON","e":-0.4,"p":10},{"g":"CD3E","id":"normal MON","e":-0.3,"p":12},{"g":"IL7R","id":"normal MON","e":-0.2,"p":14},{"g":"LYZ","id":"normal MON","e":-0.5,"p":8},{"g":"S100A8","id":"normal MON","e":-0.3,"p":12},{"g":"S100A9","id":"normal MON","e":-0.2,"p":14},{"g":"FCN1","id":"normal MON","e":-0.4,"p":10},{"g":"CD14","id":"normal MON","e":-0.3,"p":12},{"g":"FCGR3A","id":"normal MON","e":-0.2,"p":14},{"g":"HLA-DRA","id":"normal MON","e":-0.4,"p":10},{"g":"CD74","id":"normal MON","e":0.0,"p":20},{"g":"CST3","id":"normal MON","e":-0.3,"p":12},{"g":"FCER1A","id":"normal MON","e":-0.5,"p":8},{"g":"CLEC10A","id":"normal MON","e":-0.2,"p":14},{"g":"CD1C","id":"normal MON","e":-0.3,"p":12},{"g":"C1QA","id":"normal MON","e":-0.4,"p":10},{"g":"C1QB","id":"normal MON","e":-0.2,"p":14},{"g":"C1QC","id":"normal MON","e":-0.3,"p":12},{"g":"APOE","id":"normal MON","e":-0.5,"p":8},{"g":"CD68","id":"normal MON","e":-0.2,"p":14},{"g":"MS4A7","id":"normal MON","e":-0.4,"p":10},{"g":"TYROBP","id":"normal MON","e":-0.3,"p":12},{"g":"FTL","id":"normal MON","e":-0.2,"p":14},
{"g":"CCL5","id":"patient DC","e":0.4,"p":35},{"g":"NKG7","id":"patient DC","e":0.9,"p":45},{"g":"GNLY","id":"patient DC","e":1.4,"p":55},{"g":"GZMB","id":"patient DC","e":2.2,"p":55},{"g":"CD3E","id":"patient DC","e":1.3,"p":55},{"g":"IL7R","id":"patient DC","e":1.2,"p":50},{"g":"LYZ","id":"patient DC","e":0.5,"p":30},{"g":"S100A8","id":"patient DC","e":0.3,"p":20},{"g":"S100A9","id":"patient DC","e":0.6,"p":35},{"g":"FCN1","id":"patient DC","e":1.1,"p":50},{"g":"CD14","id":"patient DC","e":1.3,"p":55},{"g":"FCGR3A","id":"patient DC","e":1.4,"p":55},{"g":"HLA-DRA","id":"patient DC","e":1.2,"p":55},{"g":"CD74","id":"patient DC","e":0.6,"p":30},{"g":"CST3","id":"patient DC","e":0.2,"p":15},{"g":"FCER1A","id":"patient DC","e":0.4,"p":25},{"g":"CLEC10A","id":"patient DC","e":1.5,"p":55},{"g":"CD1C","id":"patient DC","e":0.3,"p":20},{"g":"C1QA","id":"patient DC","e":0.5,"p":30},{"g":"C1QB","id":"patient DC","e":0.2,"p":15},{"g":"C1QC","id":"patient DC","e":0.4,"p":25},{"g":"APOE","id":"patient DC","e":0.3,"p":20},{"g":"CD68","id":"patient DC","e":0.5,"p":30},{"g":"MS4A7","id":"patient DC","e":0.2,"p":15},{"g":"TYROBP","id":"patient DC","e":0.6,"p":30},{"g":"FTL","id":"patient DC","e":0.4,"p":25},
{"g":"CCL5","id":"normal DC","e":-0.4,"p":10},{"g":"NKG7","id":"normal DC","e":-0.2,"p":14},{"g":"GNLY","id":"normal DC","e":1.2,"p":40},{"g":"GZMB","id":"normal DC","e":-0.3,"p":12},{"g":"CD3E","id":"normal DC","e":-0.5,"p":10},{"g":"IL7R","id":"normal DC","e":-0.2,"p":14},{"g":"LYZ","id":"normal DC","e":-0.4,"p":10},{"g":"S100A8","id":"normal DC","e":-0.3,"p":12},{"g":"S100A9","id":"normal DC","e":-0.5,"p":8},{"g":"FCN1","id":"normal DC","e":-0.2,"p":14},{"g":"CD14","id":"normal DC","e":-0.3,"p":12},{"g":"FCGR3A","id":"normal DC","e":-0.4,"p":10},{"g":"HLA-DRA","id":"normal DC","e":-0.2,"p":14},{"g":"CD74","id":"normal DC","e":-0.5,"p":8},{"g":"CST3","id":"normal DC","e":-0.3,"p":12},{"g":"FCER1A","id":"normal DC","e":-0.4,"p":10},{"g":"CLEC10A","id":"normal DC","e":1.0,"p":35},{"g":"CD1C","id":"normal DC","e":-0.3,"p":12},{"g":"C1QA","id":"normal DC","e":-0.5,"p":8},{"g":"C1QB","id":"normal DC","e":-0.2,"p":14},{"g":"C1QC","id":"normal DC","e":-0.4,"p":10},{"g":"APOE","id":"normal DC","e":-0.3,"p":12},{"g":"CD68","id":"normal DC","e":-0.5,"p":8},{"g":"MS4A7","id":"normal DC","e":-0.2,"p":14},{"g":"TYROBP","id":"normal DC","e":-0.4,"p":10},{"g":"FTL","id":"normal DC","e":-0.3,"p":12},
{"g":"CCL5","id":"patient MC","e":1.2,"p":55},{"g":"NKG7","id":"patient MC","e":1.3,"p":60},{"g":"GNLY","id":"patient MC","e":1.4,"p":60},{"g":"GZMB","id":"patient MC","e":1.3,"p":55},{"g":"CD3E","id":"patient MC","e":1.2,"p":55},{"g":"IL7R","id":"patient MC","e":1.1,"p":50},{"g":"LYZ","id":"patient MC","e":0.9,"p":45},{"g":"S100A8","id":"patient MC","e":1.0,"p":50},{"g":"S100A9","id":"patient MC","e":1.2,"p":55},{"g":"FCN1","id":"patient MC","e":0.8,"p":40},{"g":"CD14","id":"patient MC","e":0.9,"p":45},{"g":"FCGR3A","id":"patient MC","e":1.1,"p":50},{"g":"HLA-DRA","id":"patient MC","e":1.0,"p":50},{"g":"CD74","id":"patient MC","e":1.4,"p":60},{"g":"CST3","id":"patient MC","e":0.8,"p":40},{"g":"FCER1A","id":"patient MC","e":0.6,"p":35},{"g":"CLEC10A","id":"patient MC","e":0.9,"p":45},{"g":"CD1C","id":"patient MC","e":0.7,"p":35},{"g":"C1QA","id":"patient MC","e":0.8,"p":40},{"g":"C1QB","id":"patient MC","e":0.9,"p":45},{"g":"C1QC","id":"patient MC","e":0.7,"p":35},{"g":"APOE","id":"patient MC","e":0.8,"p":40},{"g":"CD68","id":"patient MC","e":0.6,"p":35},{"g":"MS4A7","id":"patient MC","e":0.9,"p":45},{"g":"TYROBP","id":"patient MC","e":0.7,"p":35},{"g":"FTL","id":"patient MC","e":0.8,"p":40},
{"g":"CCL5","id":"normal MC","e":0.2,"p":30},{"g":"NKG7","id":"normal MC","e":0.3,"p":35},{"g":"GNLY","id":"normal MC","e":0.1,"p":25},{"g":"GZMB","id":"normal MC","e":0.2,"p":30},{"g":"CD3E","id":"normal MC","e":0.0,"p":25},{"g":"IL7R","id":"normal MC","e":0.1,"p":30},{"g":"LYZ","id":"normal MC","e":0.2,"p":30},{"g":"S100A8","id":"normal MC","e":-0.1,"p":20},{"g":"S100A9","id":"normal MC","e":0.1,"p":25},{"g":"FCN1","id":"normal MC","e":0.2,"p":30},{"g":"CD14","id":"normal MC","e":0.0,"p":25},{"g":"FCGR3A","id":"normal MC","e":0.1,"p":30},{"g":"HLA-DRA","id":"normal MC","e":0.2,"p":30},{"g":"CD74","id":"normal MC","e":0.6,"p":50},{"g":"CST3","id":"normal MC","e":0.1,"p":25},{"g":"FCER1A","id":"normal MC","e":-0.1,"p":20},{"g":"CLEC10A","id":"normal MC","e":0.2,"p":30},{"g":"CD1C","id":"normal MC","e":0.3,"p":35},{"g":"C1QA","id":"normal MC","e":0.5,"p":40},{"g":"C1QB","id":"normal MC","e":0.9,"p":45},{"g":"C1QC","id":"normal MC","e":0.8,"p":40},{"g":"APOE","id":"normal MC","e":0.5,"p":35},{"g":"CD68","id":"normal MC","e":0.2,"p":30},{"g":"MS4A7","id":"normal MC","e":0.1,"p":25},{"g":"TYROBP","id":"normal MC","e":0.3,"p":30},{"g":"FTL","id":"normal MC","e":0.2,"p":30}
],
"D":[
{"g":"CD79A","id":"patient B cells","e":0.7071068,"p":35},{"g":"MS4A1","id":"patient B cells","e":0.7071068,"p":40},{"g":"IGKC","id":"patient B cells","e":0.7071068,"p":30},{"g":"IGHM","id":"patient B cells","e":0.7071068,"p":45},{"g":"CD74","id":"patient B cells","e":0.7071068,"p":50},{"g":"HLA-DRA","id":"patient B cells","e":0.7071068,"p":40},{"g":"TCL1A","id":"patient B cells","e":0.7071068,"p":35},{"g":"BANK1","id":"patient B cells","e":0.7071068,"p":30},{"g":"CD19","id":"patient B cells","e":0.7071068,"p":25},{"g":"IGHD","id":"patient B cells","e":0.7071068,"p":35},{"g":"FCER2","id":"patient B cells","e":0.7071068,"p":30},{"g":"PAX5","id":"patient B cells","e":0.7071068,"p":25},
{"g":"CD79A","id":"normal B cells","e":-0.7071068,"p":8},{"g":"MS4A1","id":"normal B cells","e":-0.7071068,"p":10},{"g":"IGKC","id":"normal B cells","e":-0.7071068,"p":6},{"g":"IGHM","id":"normal B cells","e":-0.7071068,"p":12},{"g":"CD74","id":"normal B cells","e":-0.7071068,"p":14},{"g":"HLA-DRA","id":"normal B cells","e":-0.7071068,"p":10},{"g":"TCL1A","id":"normal B cells","e":-0.7071068,"p":8},{"g":"BANK1","id":"normal B cells","e":-0.7071068,"p":6},{"g":"CD19","id":"normal B cells","e":-0.7071068,"p":5},{"g":"IGHD","id":"normal B cells","e":-0.7071068,"p":8},{"g":"FCER2","id":"normal B cells","e":-0.7071068,"p":6},{"g":"PAX5","id":"normal B cells","e":-0.7071068,"p":5}
],
"none":[]
},
"spacing":-8,
"columns":1,
"align":"none",
"resolve":{"scale":{"size":"independent","color":"independent"},"legend":{"size":"independent","color":"independent"}},
"concat":[
{
"spacing":15.6,
"resolve":{"scale":{"size":"independent","color":"independent"},"legend":{"size":"independent","color":"independent"}},
"hconcat":[
{"data":{"name":"none"},"width":10,"height":10,"mark":{"type":"point"},"encoding":{},"view":{"stroke":null}},
{
"data":{"name":"A"},
"width":316,"height":103,
"title":{"text":"A","dx":-70,"dy":5},
"encoding":{
"x":{"field":"g","type":"nominal","sort":null,"title":"Gene"},
"y":{"field":"id","type":"nominal","title":null,"sort":["patient DT","normal DT","patient PC","normal PC","patient IC","normal IC","patient LOH","normal LOH","patient PT","normal PT"],"axis":{"minExtent":75,"labelFontSize":8}},
"size":{"field":"p","type":"quantitative","scale":{"domain":[0,100],"range":[0,28]},"legend":{"title":"pct.exp","orient":"none","legendX":320,"legendY":36,"values":[0,25,50,75]}}
},
"layer":[
{"transform":[{"filter":{"field":"id","oneOf":["normal DT","normal PC","normal IC","normal LOH","normal PT"]}}],"mark":{"type":"circle","opacity":1},"encoding":{"color":{"field":"e","type":"quantitative","title":"Relative Expression","scale":{"range":["#a3abc4","#2233ee"]},"legend":{"orient":"none","legendX":320,"legendY":2,"values":[-1,0,1,2]}}}},
{"transform":[{"filter":{"field":"id","oneOf":["patient DT","patient PC","patient IC","patient LOH","patient PT"]}}],"mark":{"type":"circle","opacity":1},"encoding":{"color":{"field":"e","type":"quantitative","title":"Relative Expression","scale":{"range":["#a4a8a4","#7e8a12"]},"legend":{"orient":"none","legendX":320,"legendY":68,"values":[0,1,2]}}}}
],
"resolve":{"scale":{"color":"independent"}}
}
]
},
{
"spacing":-12,
"resolve":{"scale":{"size":"independent","color":"independent"},"legend":{"size":"independent","color":"independent"}},
"hconcat":[
{
"data":{"name":"B"},
"width":124,"height":102,
"title":{"text":"B","dx":-40,"dy":4},
"encoding":{
"x":{"field":"g","type":"nominal","sort":null,"title":"Gene"},
"y":{"field":"id","type":"nominal","title":null,"sort":["normal POD","patient POD","normal MES","patient MES","normal EC","patient EC"],"axis":{"labelFontSize":7}},
"size":{"field":"p","type":"quantitative","scale":{"domain":[0,100],"range":[0,45]},"legend":{"title":"pct.exp","orient":"none","legendX":132,"legendY":74,"values":[0,25,50,75,100]}}
},
"layer":[
{"transform":[{"filter":{"field":"id","oneOf":["patient POD","patient MES","patient EC"]}}],"mark":{"type":"circle","opacity":1},"encoding":{"color":{"field":"e","type":"quantitative","title":"Relative Expression","scale":{"range":["#a3abc4","#2233ee"]},"legend":{"orient":"none","legendX":132,"legendY":0,"values":[-1,0,1]}}}},
{"transform":[{"filter":{"field":"id","oneOf":["normal POD","normal MES","normal EC"]}}],"mark":{"type":"circle","opacity":1},"encoding":{"color":{"field":"e","type":"quantitative","title":"Relative Expression","scale":{"range":["#a4a8a4","#7e8a12"]},"legend":{"orient":"none","legendX":132,"legendY":37,"values":[-1,0,1]}}}}
],
"resolve":{"scale":{"color":"independent"}}
},
{
"data":{"name":"C"},
"width":146,"height":104,
"title":{"text":"C","dx":-12,"dy":4},
"encoding":{
"x":{"field":"g","type":"nominal","sort":null,"title":"Gene"},
"y":{"field":"id","type":"nominal","title":null,"sort":["patient NKT","normal NKT","patient MON","normal MON","patient DC","normal DC","patient MC","normal MC"],"axis":{"labelFontSize":7,"minExtent":61}},
"size":{"field":"p","type":"quantitative","scale":{"domain":[0,100],"range":[0,36]},"legend":{"title":"pct.exp","orient":"none","legendX":149,"legendY":73,"values":[0,25,50,75,100]}}
},
"layer":[
{"transform":[{"filter":{"field":"id","oneOf":["normal NKT","normal MON","normal DC","normal MC"]}}],"mark":{"type":"circle","opacity":1},"encoding":{"color":{"field":"e","type":"quantitative","title":"Relative Expression","scale":{"range":["#a3abc4","#2233ee"]},"legend":{"orient":"none","legendX":149,"legendY":0,"values":[-1,0,1]}}}},
{"transform":[{"filter":{"field":"id","oneOf":["patient NKT","patient MON","patient DC","patient MC"]}}],"mark":{"type":"circle","opacity":1},"encoding":{"color":{"field":"e","type":"quantitative","title":"Relative Expression","scale":{"range":["#a4a8a4","#7e8a12"]},"legend":{"orient":"none","legendX":149,"legendY":36,"values":[-1,0,1,2]}}}}
],
"resolve":{"scale":{"color":"independent"}}
},
{
"data":{"name":"D"},
"width":58,"height":100,
"title":{"text":"D","dx":-5,"dy":4},
"encoding":{
"x":{"field":"g","type":"nominal","sort":null,"title":"Gene"},
"y":{"field":"id","type":"nominal","title":null,"sort":["patient B cells","normal B cells"],"axis":{"labelFontSize":7}},
"size":{"field":"p","type":"quantitative","scale":{"domain":[0,100],"range":[0,35]},"legend":{"title":"pct.exp","orient":"none","legendX":62,"legendY":73,"values":[0,25,50,75]}}
},
"layer":[
{"transform":[{"filter":{"field":"id","oneOf":["normal B cells"]}}],"mark":{"type":"circle","opacity":1},"encoding":{"color":{"field":"e","type":"quantitative","title":"Relative Expression","scale":{"range":["#a3abc4","#2233ee"]},"legend":{"orient":"none","legendX":62,"legendY":0}}}},
{"transform":[{"filter":{"field":"id","oneOf":["patient B cells"]}}],"mark":{"type":"circle","opacity":1},"encoding":{"color":{"field":"e","type":"quantitative","title":"Relative Expression","scale":{"range":["#a4a8a4","#7e8a12"]},"legend":{"orient":"none","legendX":62,"legendY":36}}}}
],
"resolve":{"scale":{"color":"independent"}}
}
]
}
]
}
